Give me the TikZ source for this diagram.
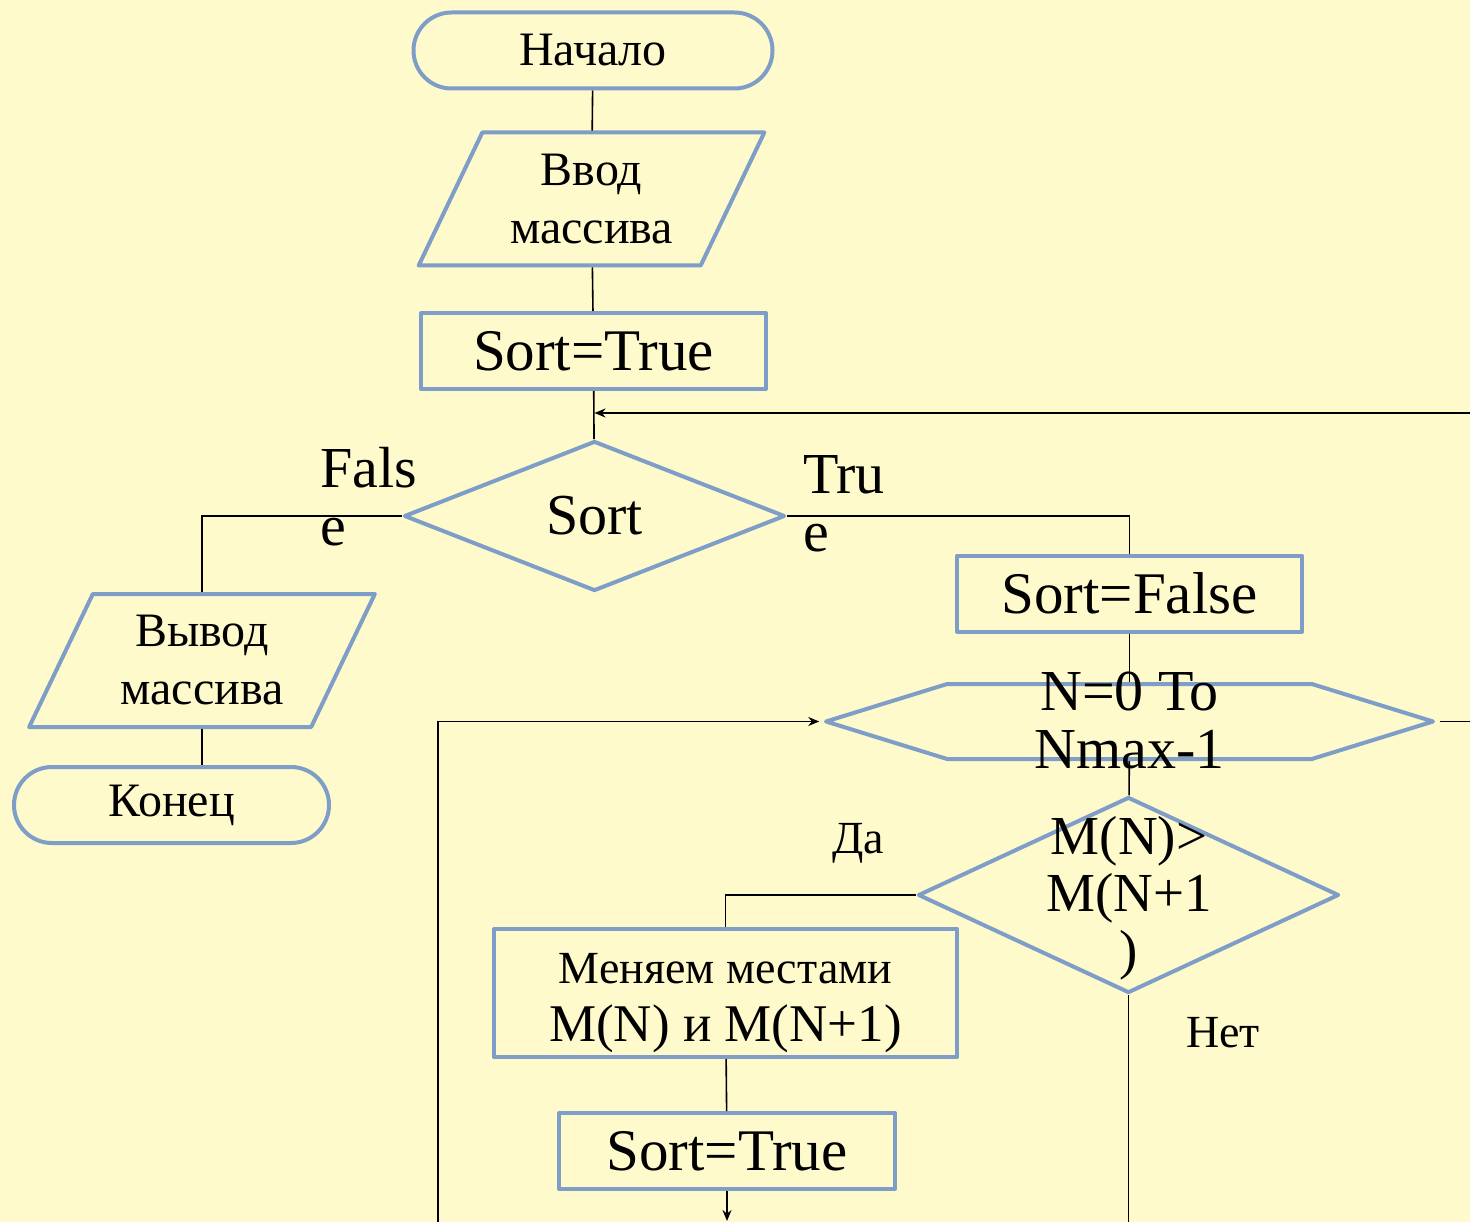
\documentclass[tikz,border=0pt]{standalone}
\usepackage{fontspec}
\setmainfont{Liberation Serif}
\usetikzlibrary{arrows.meta,shapes.geometric,shapes.misc,shapes.symbols}
\definecolor{bgyellow}{RGB}{255,250,204}
\definecolor{edgeblue}{RGB}{126,158,199}

\begin{document}
\begin{tikzpicture}[
    x=1pt, y=-1pt,
    block/.style={draw=edgeblue, line width=4pt, line join=round, inner sep=2pt},
    terminal/.style={block, rounded rectangle, minimum width=363pt, minimum height=76pt, font=\fontsize{48}{58}\selectfont},
    io/.style={block, trapezium, trapezium left angle=62.6, trapezium right angle=117.4, trapezium stretches=true, minimum width=347pt, minimum height=133pt, align=center, font=\fontsize{48}{58}\selectfont},
    process/.style={block, rectangle, minimum width=345pt, minimum height=76pt, align=center, font=\fontsize{59}{58}\selectfont},
    decision/.style={block, diamond, font=\fontsize{58}{58}\selectfont},
    loopbox/.style={block, signal, signal to=east and west, signal pointer angle=34.4, minimum width=607pt, minimum height=75pt},
    bigtext/.style={inner sep=0pt, font=\fontsize{58}{58}\selectfont},
    smalltext/.style={inner sep=0pt, font=\fontsize{46}{58}\selectfont},
    conn/.style={draw=black, line width=1.6pt},
    arrow/.style={-{Stealth[length=11pt, width=9pt]}}
]

% Background
\path[use as bounding box, fill=bgyellow] (0,0) rectangle (1470,1222);

% Main column
\node[terminal] (start) at (593,50.5) {Начало};
\node[io] (input) at (591.5,199) {Ввод\\массива};
\node[process] (sortT) at (593.5,351) {Sort=True};
\node[decision, minimum width=381pt, minimum height=150pt] (check) at (594.5,516) {Sort};

% False branch
\node[io] (output) at (202,660.5) {Вывод\\массива};
\node[terminal, minimum width=319pt] (stop) at (171.5,805) {Конец};

% True branch
\node[process] (sortF) at (1129.5,593.5) {Sort=False};
\node[loopbox] (loop) at (1129.5,721.5) {};
\node[bigtext, align=center] (loopText) at (1129.5,720) {N=0 To\\Nmax-1};
\node[decision, minimum width=421pt, minimum height=196pt] (cmp) at (1128.5,895) {};
\node[bigtext, align=center, font=\fontsize{55}{57}\selectfont] (cmpText) at (1129,898) {M(N)>\\M(N+1\\)};
\node[process, minimum width=463pt, minimum height=128pt, font=\fontsize{53}{58}\selectfont] (swap) at (725.5,993)
    {{\fontsize{46}{58}\selectfont\rule{0pt}{50pt}Меняем местами}\\M(N) и M(N+1)};
\node[process, minimum width=336pt] (sortT2) at (727,1151) {Sort=True};

% Free ends at the border
\coordinate (backIn) at (1470,413);
\coordinate (loopOut) at (1470,721.5);
\coordinate (loopBack) at (438,1222);
\coordinate (swapOut) at (727,1221);
\coordinate (noOut) at (1128.5,1222);

% Connectors
\draw[conn] (start) -- (input);
\draw[conn] (input) -- (sortT);
\draw[conn] (sortT) -- (check);
\draw[conn, arrow] (backIn) -- (backIn -| check.north);
\draw[conn] (check.west) -| (output.north);
\draw[conn] (output.south) -- (output.south |- stop.north);
\draw[conn] (check.east) -| (sortF.north);
\draw[conn] (sortF) -- (loop);
\draw[conn] (loop) -- (cmp);
\draw[conn] (loop.east) -- (loopOut);
\draw[conn, arrow] (loopBack) |- (loop.west);
\draw[conn] (cmp.west) -| (swap.north);
\draw[conn] (swap) -- (sortT2);
\draw[conn, arrow] (sortT2) -- (swapOut);
\draw[conn] (cmp.south) -- (noOut);

% Branch labels
\node[bigtext, align=left, anchor=west] (falseLbl) at (320,497) {Fals\\e};
\node[bigtext, align=left, anchor=west] (trueLbl) at (803,504) {Tru\\e};
\node[smalltext] (yesLbl) at (858,843) {Да};
\node[smalltext] (noLbl) at (1223,1033) {Нет};

\end{tikzpicture}
\end{document}
